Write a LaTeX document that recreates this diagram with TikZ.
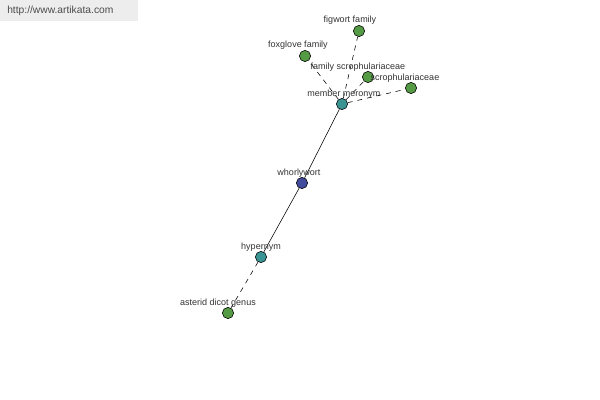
\documentclass[tikz,border=0pt]{standalone}
\usepackage{fontspec}
\setmainfont{Liberation Sans}
\definecolor{leafgreen}{HTML}{559A45}
\definecolor{linkteal}{HTML}{3A9494}
\definecolor{headblue}{HTML}{434C9C}
\definecolor{labelgray}{HTML}{333333}
\tikzset{
  word/.style={circle,draw=black,line width=0.4pt,minimum size=8pt,inner sep=0pt},
  wordlabel/.style={font=\fontsize{6.4}{7}\selectfont,text=labelgray,inner sep=0pt},
  link/.style={dash pattern=on 3.5pt off 3.5pt}
}

\begin{document}
\begin{tikzpicture}[x=0.025cm,y=-0.025cm]
  \useasboundingbox (0,0) rectangle (600,400);
  \fill[white] (0,0) rectangle (600,400);
  \fill[black!7] (0,0) rectangle (138,21);
  \node[font=\fontsize{7.3}{8}\selectfont,text=black!70,anchor=west,inner sep=0pt] (site) at (7,11) {http://www.artikata.com};

  \node[word,fill=headblue] (whorlywort) at (302,183) {};
  \node[word,fill=linkteal] (meronym) at (342,104) {};
  \node[word,fill=linkteal] (hypernym) at (261,257) {};
  \node[word,fill=leafgreen] (asterid) at (228,313) {};
  \node[word,fill=leafgreen] (figwort) at (359,31) {};
  \node[word,fill=leafgreen] (foxglove) at (305,56) {};
  \node[word,fill=leafgreen] (familyscroph) at (368,77) {};
  \node[word,fill=leafgreen] (scroph) at (411,88) {};

  \draw (whorlywort)--(meronym);
  \draw (whorlywort)--(hypernym);
  \draw[link] (hypernym)--(asterid);
  \draw[link] (meronym)--(figwort);
  \draw[link] (meronym)--(foxglove);
  \draw[link] (meronym)--(familyscroph);
  \draw[link] (meronym)--(scroph);

  \node[wordlabel] (whorlywortlabel) at (299,173) {whorlywort};
  \node[wordlabel] (meronymlabel) at (344,94) {member meronym};
  \node[wordlabel] (hypernymlabel) at (261,247) {hypernym};
  \node[wordlabel] (asteridlabel) at (218,303) {asterid dicot genus};
  \node[wordlabel] (figwortlabel) at (350,20) {figwort family};
  \node[wordlabel] (foxglovelabel) at (298,45) {foxglove family};
  \node[wordlabel] (familyscrophlabel) at (358,67) {family scrophulariaceae};
  \node[wordlabel] (scrophlabel) at (405,78) {scrophulariaceae};
\end{tikzpicture}
\end{document}
